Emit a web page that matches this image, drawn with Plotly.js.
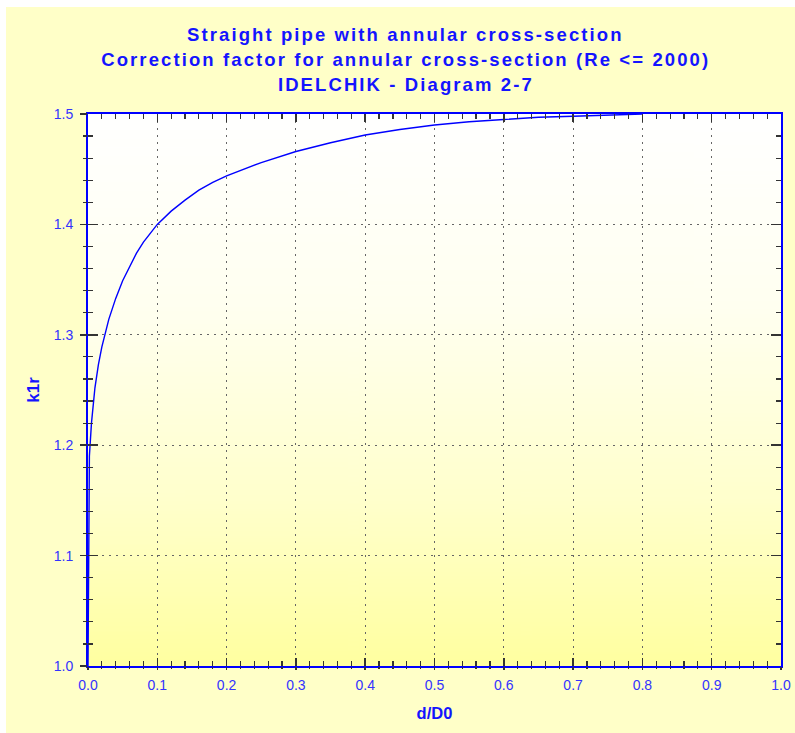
<!DOCTYPE html>
<html>
<head>
<meta charset="utf-8">
<script src="https://cdn.plot.ly/plotly-3.0.1.min.js"></script>
<style>
  html, body { margin: 0; padding: 0; background: #ffffff; width: 795px; height: 733px; overflow: hidden; }
  #chart { position: absolute; left: 6px; top: 7px; width: 789px; height: 726px; }
  #chart .annotation-text { letter-spacing: 2.1px; }
</style>
</head>
<body>
<div id="chart"></div>
<script>
// d/D0 values
const dRatio = [0, 0.001, 0.002, 0.005, 0.01, 0.015, 0.02, 0.03, 0.04, 0.05, 0.06, 0.07, 0.08, 0.09,
  0.10, 0.12, 0.14, 0.16, 0.18, 0.20, 0.25, 0.30, 0.35, 0.40, 0.45, 0.50, 0.55, 0.60, 0.65, 0.70, 0.75, 0.80];
// k1r values
const k1r = [1.000, 1.165, 1.190, 1.220, 1.252, 1.273, 1.289, 1.314, 1.333, 1.349, 1.362, 1.374, 1.384, 1.392,
  1.400, 1.412, 1.422, 1.431, 1.438, 1.444, 1.456, 1.466, 1.474, 1.481, 1.486, 1.490, 1.493, 1.495, 1.497, 1.498, 1.499, 1.500];

const titleLines = ["Straight pipe with annular cross-section",
  "Correction factor for annular cross-section (Re <= 2000)",
  "IDELCHIK - Diagram 2-7"];
const xTitle = "d/D0";
const yTitle = "k1r";

// gradient background for plot area
const cv = document.createElement('canvas');
cv.width = 4; cv.height = 256;
const ctx = cv.getContext('2d');
const g = ctx.createLinearGradient(0, 0, 0, 256);
g.addColorStop(0, '#ffffff');
g.addColorStop(0.35, '#fffff0');
g.addColorStop(0.7, '#ffffcc');
g.addColorStop(1, '#ffffa0');
ctx.fillStyle = g;
ctx.fillRect(0, 0, 4, 256);
const bgURL = cv.toDataURL('image/png');

const blue = '#0000ff';
const tickCol = '#333333';
const fam = 'Liberation Sans, Arial, sans-serif';
const labelFont = { family: fam, size: 14, color: '#3333ff' };
const titleFont = { family: fam, size: 18.5, color: '#1414ff', weight: 'bold' };

const data = [
  { x: dRatio, y: k1r, type: 'scatter', mode: 'lines',
    line: { color: blue, width: 1.4 }, hoverinfo: 'skip', showlegend: false }
];

const titleShifts = [80, 55, 29.5];
const annotations = titleLines.map((t, i) => ({
  text: t, xref: 'paper', yref: 'paper', x: 0.5, y: 1, xanchor: 'center', yanchor: 'middle',
  xshift: -29, yshift: titleShifts[i], showarrow: false, font: titleFont
}));

const layout = {
  width: 789, height: 726,
  margin: { l: 82, r: 14, t: 107, b: 67 },
  paper_bgcolor: '#ffffc8',
  plot_bgcolor: 'rgba(0,0,0,0)',
  annotations: annotations,
  xaxis: {
    range: [0, 1], dtick: 0.1, tick0: 0, tickformat: '.1f',
    ticks: 'inside', ticklen: 8, tickwidth: 1.5, tickcolor: tickCol,
    minor: { dtick: 0.02, ticks: 'inside', ticklen: 5, tickwidth: 1.2, tickcolor: tickCol, showgrid: false },
    showline: true, linecolor: blue, linewidth: 2, mirror: 'ticks',
    showgrid: true, gridcolor: '#666666', gridwidth: 1, griddash: '1.5px,5.5px',
    zeroline: false, tickfont: labelFont, ticklabelstandoff: 5,
    title: { text: xTitle, font: { family: fam, size: 16.5, color: '#1414ff', weight: 'bold' }, standoff: 16 }
  },
  yaxis: {
    range: [1.0, 1.5], dtick: 0.1, tick0: 1.0, tickformat: '.1f',
    ticks: 'inside', ticklen: 10, tickwidth: 1.5, tickcolor: tickCol,
    minor: { dtick: 0.02, ticks: 'inside', ticklen: 5, tickwidth: 1.2, tickcolor: tickCol, showgrid: false },
    showline: true, linecolor: blue, linewidth: 2, mirror: 'ticks',
    showgrid: true, gridcolor: '#666666', gridwidth: 1, griddash: '1.5px,5.5px',
    zeroline: false, tickfont: labelFont, ticklabelstandoff: 10,
    title: { text: yTitle, font: { family: fam, size: 17, color: '#1414ff', weight: 'bold' }, standoff: 10 }
  },
  xaxis2: {
    overlaying: 'x', anchor: 'y', side: 'bottom', range: [0, 1], dtick: 0.1, tick0: 0,
    ticks: 'outside', ticklen: 3, tickwidth: 1.5, tickcolor: tickCol,
    minor: { dtick: 0.02, ticks: 'outside', ticklen: 2, tickwidth: 1.2, tickcolor: tickCol, showgrid: false },
    showticklabels: false, showgrid: false, showline: false, zeroline: false
  },
  yaxis2: {
    overlaying: 'y', anchor: 'x', side: 'left', range: [1.0, 1.5], dtick: 0.1, tick0: 1.0,
    ticks: 'outside', ticklen: 7, tickwidth: 1.5, tickcolor: tickCol,
    minor: { dtick: 0.02, ticks: 'outside', ticklen: 4, tickwidth: 1.2, tickcolor: tickCol, showgrid: false },
    showticklabels: false, showgrid: false, showline: false, zeroline: false
  },
  images: [{
    source: bgURL, xref: 'x', yref: 'y', x: 0, y: 1.5, sizex: 1, sizey: 0.5,
    sizing: 'stretch', layer: 'below', xanchor: 'left', yanchor: 'top'
  }]
};

// invisible trace to activate overlay axes
data.push({ x: [0, 1], y: [1.0, 1.5], xaxis: 'x2', yaxis: 'y2', type: 'scatter', mode: 'markers',
  marker: { opacity: 0 }, hoverinfo: 'skip', showlegend: false });

Plotly.newPlot('chart', data, layout, { displayModeBar: false, staticPlot: true });
</script>
</body>
</html>
